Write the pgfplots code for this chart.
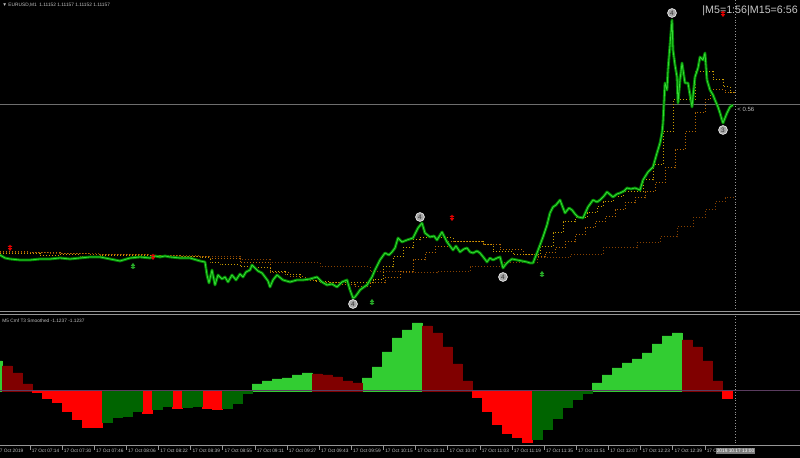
\documentclass[border=0pt]{standalone}
\usepackage{pgfplots}
\pgfplotsset{compat=1.18}
\usepackage{fontspec}
\setmainfont{Liberation Sans}

\definecolor{lgreen}{RGB}{50,205,50}
\definecolor{dred}{RGB}{128,0,0}
\definecolor{bred}{RGB}{255,0,0}
\definecolor{dgreen}{RGB}{0,100,0}
\definecolor{candle}{RGB}{0,135,0}
\definecolor{candlehi}{RGB}{55,215,55}
\definecolor{mafast}{RGB}{205,160,0}
\definecolor{mamid}{RGB}{185,105,0}
\definecolor{maslow}{RGB}{135,65,0}
\definecolor{txt}{RGB}{192,192,192}
\definecolor{axgray}{RGB}{150,150,150}
\definecolor{zeroline}{RGB}{90,60,95}
\definecolor{sigred}{RGB}{230,0,0}
\definecolor{siggreen}{RGB}{40,170,40}

% signal arrows
\pgfdeclareplotmark{arrdown}{%
  \pgfpathmoveto{\pgfqpoint{-1.1pt}{-0.1pt}}%
  \pgfpathlineto{\pgfqpoint{1.1pt}{-0.1pt}}%
  \pgfpathlineto{\pgfqpoint{0pt}{-1.5pt}}%
  \pgfpathclose
  \pgfpathrectangle{\pgfqpoint{-0.35pt}{-0.2pt}}{\pgfqpoint{0.7pt}{1.7pt}}%
  \pgfpathrectangle{\pgfqpoint{-1.1pt}{0.5pt}}{\pgfqpoint{2.2pt}{0.6pt}}%
  \pgfusepathqfill}
\pgfdeclareplotmark{arrup}{%
  \pgfpathmoveto{\pgfqpoint{-1.1pt}{0.1pt}}%
  \pgfpathlineto{\pgfqpoint{1.1pt}{0.1pt}}%
  \pgfpathlineto{\pgfqpoint{0pt}{1.5pt}}%
  \pgfpathclose
  \pgfpathrectangle{\pgfqpoint{-0.35pt}{-1.5pt}}{\pgfqpoint{0.7pt}{1.7pt}}%
  \pgfpathrectangle{\pgfqpoint{-1.1pt}{-1.1pt}}{\pgfqpoint{2.2pt}{0.6pt}}%
  \pgfusepathqfill}

\newcommand{\tinyfont}{\fontsize{2.4}{2.8}\selectfont}

\pgfplotstableread{
x y
0 57
5 54
10 53
20 52
30 52
40 53
50 53
60 54
70 53
80 54
90 55
100 55
110 53
120 51
130 54
140 55
150 54
155 56
160 55
165 56
170 55
180 54
190 54
200 51
205 50
207 37
209 29
212 42
215 27
218 37
222 33
225 35
228 30
232 37
236 32
240 38
243 35
246 40
250 42
252 47
255 44
258 41
262 39
265 35
268 31
270 25
273 32
277 37
283 32
290 30
297 32
303 32
310 33
317 35
322 30
327 27
332 28
337 25
342 30
347 32
350 22
353 14
355 15
358 19
360 22
364 25
367 27
372 35
375 42
380 52
385 59
389 57
392 60
395 64
398 74
402 70
407 72
413 74
416 80
418 84
422 89
425 79
430 75
434 76
437 72
442 80
447 70
453 62
456 66
460 60
464 63
467 64
470 60
473 59
477 61
480 59
484 54
487 50
490 54
493 52
497 54
500 55
503 44
506 48
508 50
512 53
517 52
522 51
527 50
530 49
533 49
537 59
540 67
543 75
547 87
550 99
553 105
556 107
560 112
565 99
569 104
572 102
575 98
578 95
583 94
588 105
593 112
597 110
600 112
604 116
607 120
613 115
617 118
620 119
624 121
627 124
631 123
635 124
640 122
643 132
648 140
653 145
657 159
660 169
662 179
663 189
665 229
667 222
668 242
670 267
672 292
673 262
675 247
677 235
678 209
680 232
682 249
685 229
688 229
690 217
692 205
695 235
698 244
700 255
703 252
705 259
707 232
710 222
713 217
715 212
718 205
720 199
722 192
723 189
725 194
727 199
730 205
733 207
}\price

\begin{document}
\begin{tikzpicture}
\fill[black] (0,0) rectangle (400pt,229pt);
\useasboundingbox (0,0) rectangle (400pt,229pt);
\clip (0,0) rectangle (400pt,229pt);

% ---------- indicator pane ----------
\begin{axis}[
  at={(0,6pt)}, anchor=south west,
  scale only axis, width=400pt, height=65pt,
  xmin=0, xmax=800, ymin=-55, ymax=75,
  axis x line*=bottom, axis y line=none,
  x axis line style={color=axgray, line width=0.5pt, -},
  xtick={30,62.1,94.3,126.4,158.6,190.7,222.8,255,287.1,319.3,351.4,383.5,415.7,447.8,480,512.1,544.2,576.4,608.5,640.7,672.8,705},
  xticklabels={17 Oct 07:14,17 Oct 07:30,17 Oct 07:46,17 Oct 08:06,17 Oct 08:22,17 Oct 08:39,17 Oct 08:55,17 Oct 09:11,17 Oct 09:27,17 Oct 09:43,17 Oct 09:59,17 Oct 10:15,17 Oct 10:31,17 Oct 10:47,17 Oct 11:03,17 Oct 11:19,17 Oct 11:35,17 Oct 11:51,17 Oct 12:07,17 Oct 12:23,17 Oct 12:39,17 O},
  ytick=\empty,
  tick align=outside, major tick length=2pt,
  xtick style={color=axgray, line width=0.4pt},
  xticklabel style={anchor=north west, font=\tinyfont, text=txt, inner sep=0.4pt, xshift=0.3pt, yshift=1.2pt},
  bar width=10,
]
\addplot[ybar, bar shift=0pt, fill=lgreen, draw=lgreen, line width=0.2pt] coordinates {
(-3,30)(257,7)(267,10)(277,12)(287,13)(297,16)(307,18)(367,13)(377,24)(387,39)(397,53)(407,61)(417,68)
(597,8)(607,16)(617,23)(627,28)(637,32)(647,38)(657,47)(667,55)(677,58)};
\addplot[ybar, bar shift=0pt, fill=dred, draw=dred, line width=0.2pt] coordinates {
(7,25)(17,18)(27,7)(317,17)(327,16)(337,14)(347,10)(357,8)(427,65)(437,58)(447,44)(457,27)(467,10)
(687,51)(697,44)(707,30)(717,10)};
\addplot[ybar, bar shift=0pt, fill=bred, draw=bred, line width=0.2pt] coordinates {
(37,-1)(47,-7)(57,-11)(67,-20)(77,-28)(87,-36)(97,-36)(147,-22)(177,-17)(207,-17)(217,-18)
(477,-6)(487,-20)(497,-33)(507,-42)(517,-46)(527,-51)(727,-7)};
\addplot[ybar, bar shift=0pt, fill=dgreen, draw=dgreen, line width=0.2pt] coordinates {
(107,-31)(117,-26)(127,-25)(137,-20)(157,-18)(167,-15)(187,-16)(197,-15)(227,-17)(237,-12)(247,-2)
(537,-48)(547,-38)(557,-27)(567,-16)(577,-8)(587,-2)};
\addplot[color=zeroline, line width=0.5pt] coordinates {(0,0)(800,0)};
\node[anchor=west, font=\tinyfont, text=txt, inner sep=0pt] at (axis cs:2,70) {M5 Cmf T3 Smoothed -1.1237 -1.1237};
\coordinate (datebox) at (axis cs:735.5,-55);
\coordinate (firstlab) at (axis cs:-4,-55);
\end{axis}
\node[anchor=north west, font=\tinyfont, text=txt, inner sep=0.4pt] at ([yshift=-0.8pt]firstlab) {17 Oct 2019};
\node[anchor=north, fill={rgb,255:red,125;green,125;blue,125}, text=white, font=\tinyfont, inner sep=0.5pt] at ([yshift=-1pt]datebox) {2019.10.17 13:00};

% ---------- price pane ----------
\begin{axis}[
  at={(0,73pt)}, anchor=south west,
  scale only axis, width=400pt, height=156pt,
  xmin=0, xmax=800, ymin=0, ymax=312,
  hide axis, clip=false,
]
% bid line
\addplot[color={rgb,255:red,110;green,110;blue,110}, line width=0.5pt] coordinates {(0,207)(800,207)};
% moving averages
\addplot[const plot, color=maslow, densely dotted, line width=0.5pt] coordinates {
(0,59)(50,58)(100,57)(150,56)(200,55)(240,52)(270,49)(320,45)(370,40)(403,39)(437,40)(470,45)(503,49)
(537,54)(570,57)(603,64)(637,69)(660,75)(677,85)(693,94)(705,102)(715,110)(725,114)(735,117)};
\addplot[const plot, color=mamid, densely dotted, line width=0.5pt] coordinates {
(0,60)(30,59)(60,58)(90,57)(120,57)(150,56)(180,55)(210,53)(240,49)(270,39)(290,35)(305,31)(320,29)
(340,27)(355,25)(370,29)(385,34)(400,40)(413,52)(425,59)(435,65)(447,70)(460,70)(483,67)(500,62)
(523,57)(537,55)(545,59)(555,64)(565,70)(575,77)(585,84)(595,90)(605,95)(615,102)(625,109)(635,114)
(645,120)(655,129)(665,144)(675,162)(685,180)(695,199)(705,212)(710,222)(725,219)(735,219)};
\addplot[const plot, color=mafast, densely dotted, line width=0.5pt] coordinates {
(0,58)(20,58)(40,56)(60,57)(80,55)(100,56)(120,56)(140,56)(160,55)(180,55)(200,54)(210,49)(220,47)
(240,45)(255,44)(270,40)(285,37)(300,32)(315,30)(330,29)(345,29)(360,29)(373,32)(383,45)(393,55)
(403,64)(413,72)(420,74)(447,74)(453,70)(470,70)(483,67)(493,60)(513,57)(537,57)(540,65)(553,79)
(563,90)(575,94)(587,99)(597,105)(603,110)(613,115)(623,120)(643,132)(653,147)(663,180)(673,212)
(685,212)(695,240)(713,232)(723,225)(730,219)(735,219)};
% price
\addplot[color=candle, line width=1.4pt, line join=round] table[x=x, y=y] {\price};
\addplot[color=candlehi, line width=0.4pt, line join=round] table[x=x, y=y] {\price};
% signal arrows
\addplot[only marks, mark=arrdown, color=sigred] coordinates {(10,64)(153,55)(452,94)(723,298)};
\addplot[only marks, mark=arrup, color=siggreen] coordinates {(133,46)(372,10)(542,38)};
% wave labels
\addplot[only marks, mark=*, mark size=2.2pt,
  mark options={fill={rgb,255:red,165;green,165;blue,165}, draw={rgb,255:red,225;green,225;blue,225}, line width=0.4pt},
  point meta=explicit symbolic, nodes near coords,
  every node near coord/.append style={anchor=center, inner sep=0pt, font=\fontsize{3.2}{3.2}\selectfont, text={rgb,255:red,50;green,50;blue,50}}]
  coordinates {(353,8)[4] (420,95)[4] (503,35)[4] (672,299)[4] (723,182)[3]};
% separator between panes and cursor line
\draw[color=axgray, line width=0.5pt] (axis cs:0,0.3) -- (axis cs:800,0.3);
\draw[color=axgray, line width=0.5pt] (axis cs:0,-3) -- (axis cs:800,-3);
\draw[color=axgray, line width=0.4pt, densely dotted] (axis cs:735,312) -- (axis cs:735,-134);
% texts
\node[anchor=west, font=\tinyfont, text=txt, inner sep=0pt] at (axis cs:2,306.5) {▼ EURUSD,M1~ 1.11152 1.11157 1.11152 1.11157};
\node[anchor=west, font=\fontsize{5.35}{6}\selectfont, text={rgb,255:red,200;green,200;blue,200}, inner sep=0pt] at (axis cs:702,301.5) {|M5=1:56|M15=6:56};
\node[anchor=west, font=\fontsize{3}{3.5}\selectfont, text=txt, inner sep=0pt] at (axis cs:737,203) {< 0.56};
\end{axis}
\end{tikzpicture}
\end{document}
